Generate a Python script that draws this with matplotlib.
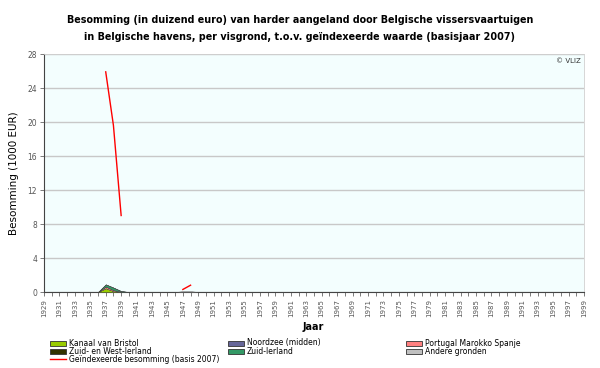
import numpy as np
import matplotlib
matplotlib.use("Agg")
import matplotlib.pyplot as plt
from matplotlib.lines import Line2D

# ---- data ----
area_years = [1936, 1937, 1938, 1939, 1940, 1946, 1947, 1948, 1949]
kanaal_van_bristol = [0, 0.45, 0.10, 0.0, 0, 0, 0, 0, 0]
noordzee_midden = [0, 0.0, 0.0, 0.0, 0, 0, 0, 0, 0]
portugal_marokko_spanje = [0, 0.20, 0.12, 0.03, 0, 0, 0, 0, 0]
zuid_en_west_ierland = [0, 0.0, 0.0, 0.0, 0, 0, 0.03, 0.03, 0]
zuid_ierland = [0, 0.25, 0.30, 0.08, 0, 0, 0, 0, 0]
andere_gronden = [0, 0.0, 0.0, 0.0, 0, 0, 0.07, 0.07, 0]

line_years = [1937, 1938, 1939, 1940, 1946, 1947, 1948]
geindexeerd = [25.9, 19.6, 9.0, np.nan, np.nan, 0.3, 0.8]

series_names = ["Kanaal van Bristol", "Noordzee (midden)", "Portugal Marokko Spanje",
                "Zuid- en West-Ierland", "Zuid-Ierland", "Andere gronden"]
series_colors = ["#99CC00", "#666699", "#FF8080", "#333300", "#339966", "#C0C0C0"]
line_name = "Geïndexeerde besomming (basis 2007)"

x_ticks = list(range(1929, 2000))
y_ticks = [0, 4, 8, 12, 16, 20, 24, 28]

plt.rcParams['font.family'] = ['DejaVu Sans']

fig = plt.figure(figsize=(6.0, 3.68), dpi=100)
ax = fig.add_axes([44/600, 1-292/368, (584-44)/600, (292-54)/368])
ax.set_facecolor("#F3FEFE")

polys = ax.stackplot(area_years,
                     kanaal_van_bristol, noordzee_midden, portugal_marokko_spanje,
                     zuid_en_west_ierland, zuid_ierland, andere_gronden,
                     colors=series_colors, edgecolor="#444444", linewidth=0.25, zorder=3)
ax.plot(line_years, geindexeerd, color="#FF0000", lw=1.0, zorder=4)

ax.set_xlim(1929, 1999)
ax.set_ylim(0, 28)
ax.set_xticks(x_ticks)
ax.set_xticklabels([str(y) if (y - 1929) % 2 == 0 else "" for y in x_ticks],
                   rotation=90, fontsize=5, color="#555555")
ax.set_yticks(y_ticks)
ax.set_yticklabels([str(v) for v in y_ticks], fontsize=5.5, color="#555555")
ax.tick_params(axis='both', length=3, width=0.6, color="#666666", pad=2)
ax.yaxis.grid(True, color="#C8C8C8", lw=1.0, zorder=1)
ax.set_axisbelow(True)
for s in ["top", "right"]:
    ax.spines[s].set_color("#D0D0D0")
    ax.spines[s].set_linewidth(0.6)
for s in ["left", "bottom"]:
    ax.spines[s].set_color("#444444")
    ax.spines[s].set_linewidth(0.8)

ax.set_ylabel("Besomming (1000 EUR)", fontsize=7.5, labelpad=6)
ax.text(0.995, 0.985, "© VLIZ", transform=ax.transAxes, ha="right", va="top",
        fontsize=5, color="#333333")

fig.text(0.5, 1-20/368, "Besomming (in duizend euro) van harder aangeland door Belgische vissersvaartuigen",
         ha="center", va="center", fontsize=6.9, fontweight="bold")
fig.text(0.5, 1-37/368, "in Belgische havens, per visgrond, t.o.v. geïndexeerde waarde (basisjaar 2007)",
         ha="center", va="center", fontsize=6.9, fontweight="bold")
fig.text(313/600, 1-327/368, "Jaar", ha="center", va="center", fontsize=7, fontweight="bold")

# legend
col_x = [50, 228, 406]
row_y = [343, 351, 359]
order = [(0, 0, 0), (1, 1, 0), (2, 2, 0), (3, 0, 1), (4, 1, 1), (5, 2, 1)]
for idx, c, r in order:
    x0 = col_x[c] / 600
    y0 = 1 - row_y[r] / 368
    fig.patches.append(plt.Rectangle((x0, y0 - 2.5/368), 16/600, 5/368,
                                     transform=fig.transFigure, facecolor=series_colors[idx],
                                     edgecolor="#333333", lw=0.6))
    fig.text(x0 + 19/600, y0, series_names[idx], fontsize=5.5, va="center", ha="left")
x0 = col_x[0] / 600
y0 = 1 - row_y[2] / 368
fig.lines.append(Line2D([x0, x0 + 16/600], [y0, y0], transform=fig.transFigure,
                        color="#FF0000", lw=1.0))
fig.text(x0 + 19/600, y0, line_name, fontsize=5.5, va="center", ha="left")

fig.savefig("out.png", dpi=100)
